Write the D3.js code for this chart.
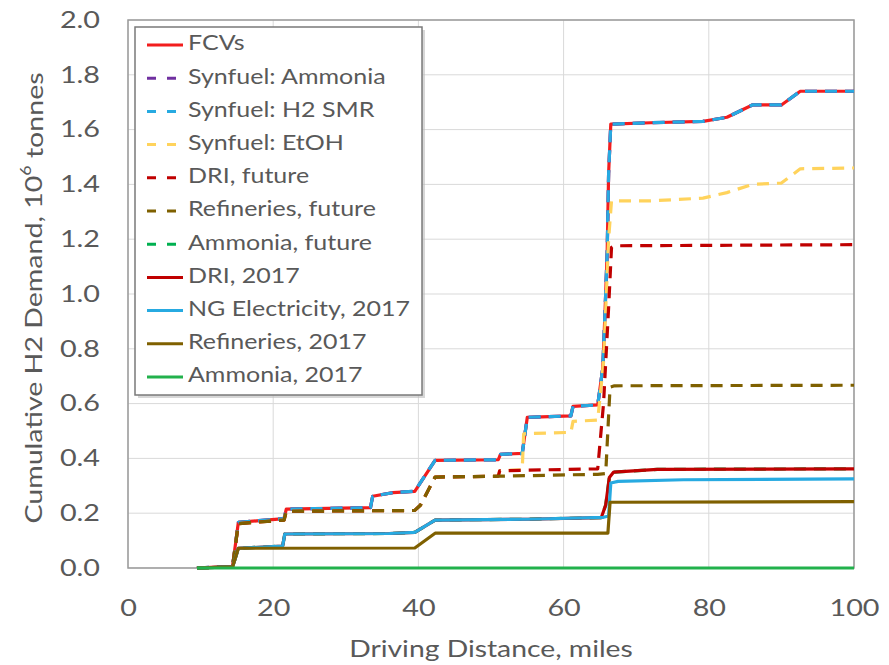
<!DOCTYPE html>
<html>
<head>
<meta charset="utf-8">
<script src="https://cdn.jsdelivr.net/npm/d3@7"></script>
<style>
  html, body { margin: 0; padding: 0; background: #fff; }
  svg { display: block; }
  text { font-family: Lato, "Open Sans", sans-serif; fill: #595959; }
</style>
</head>
<body>
<svg id="chart" width="889" height="665"></svg>
<script>
// ---------- DATA ----------
const seriesNames = ["FCVs", "Synfuel: Ammonia", "Synfuel: H2 SMR", "Synfuel: EtOH",
  "DRI, future", "Refineries, future", "Ammonia, future",
  "DRI, 2017", "NG Electricity, 2017", "Refineries, 2017", "Ammonia, 2017"];

const xTicks = [0, 20, 40, 60, 80, 100];
const yTicks = [0.0, 0.2, 0.4, 0.6, 0.8, 1.0, 1.2, 1.4, 1.6, 1.8, 2.0];

// FCVs / Synfuel: Ammonia / Synfuel: H2 SMR (overlapping)
const topDist = [9.5, 12, 14.4, 15.2, 21.5, 21.8, 33.4, 33.7, 36.5, 39.5, 42.3, 51, 51.3, 54.3, 55, 61, 61.3, 64.7, 65.4, 65.7, 66.0, 66.2, 66.5, 72, 79.2, 82.5, 86, 90, 92.6, 100];
const topVal  = [0, 0.003, 0.006, 0.167, 0.18, 0.215, 0.22, 0.262, 0.275, 0.28, 0.393, 0.395, 0.415, 0.418, 0.55, 0.555, 0.59, 0.595, 0.73, 0.93, 1.15, 1.44, 1.62, 1.625, 1.63, 1.645, 1.69, 1.69, 1.74, 1.74];

// Synfuel: EtOH
const etohDist = [9.5, 14.4, 15.2, 21.5, 21.8, 39.5, 40.3, 42.3, 51, 51.2, 54.3, 54.5, 61, 61.3, 64.7, 65.5, 66.2, 66.6, 72, 79.2, 82.5, 86, 90, 92.6, 100];
const etohVal  = [0, 0.004, 0.162, 0.175, 0.207, 0.21, 0.23, 0.332, 0.335, 0.355, 0.358, 0.49, 0.495, 0.535, 0.54, 0.75, 1.2, 1.34, 1.34, 1.35, 1.37, 1.40, 1.405, 1.457, 1.46];

// DRI, future
const driFutDist = [9.5, 14.4, 15.2, 21.5, 21.8, 39.5, 40.3, 42.3, 51, 51.2, 64.7, 65.5, 66.2, 66.6, 67, 100];
const driFutVal  = [0, 0.004, 0.162, 0.175, 0.207, 0.21, 0.23, 0.332, 0.335, 0.355, 0.362, 0.6, 0.95, 1.17, 1.176, 1.18];

// Refineries, future
const refFutDist = [9.5, 14.4, 15.2, 21.5, 21.8, 39.5, 40.3, 42.3, 51, 64.7, 65.8, 66.4, 67, 100];
const refFutVal  = [0, 0.004, 0.162, 0.175, 0.207, 0.21, 0.23, 0.332, 0.335, 0.342, 0.345, 0.66, 0.665, 0.667];

// Ammonia, future (hidden under DRI, 2017)
const ammFutDist = [9.5, 14.4, 15.2, 21.3, 21.6, 36, 39.5, 42.3, 55, 65.2, 65.8, 66.3, 66.9, 72.9, 100];
const ammFutVal  = [0, 0.004, 0.072, 0.08, 0.124, 0.126, 0.13, 0.175, 0.178, 0.184, 0.23, 0.33, 0.35, 0.36, 0.362];

// DRI, 2017
const dri17Dist = [9.5, 14.4, 15.2, 21.3, 21.6, 36, 39.5, 42.3, 55, 65.2, 65.8, 66.3, 66.9, 72.9, 100];
const dri17Val  = [0, 0.004, 0.072, 0.08, 0.124, 0.126, 0.13, 0.175, 0.178, 0.184, 0.23, 0.33, 0.35, 0.36, 0.362];

// NG Electricity, 2017
const ngDist = [9.5, 14.4, 15.2, 21.3, 21.6, 36, 39.5, 42.3, 55, 65.5, 66.2, 66.5, 67.5, 76.5, 100];
const ngVal  = [0, 0.004, 0.072, 0.08, 0.124, 0.126, 0.13, 0.175, 0.178, 0.185, 0.19, 0.31, 0.316, 0.322, 0.325];

// Refineries, 2017
const ref17Dist = [9.5, 14.4, 15.2, 39.5, 42.3, 66.1, 66.4, 100];
const ref17Val  = [0, 0.004, 0.072, 0.073, 0.127, 0.127, 0.24, 0.242];

// Ammonia, 2017
const amm17Dist = [9.5, 100];
const amm17Val  = [0, 0];

const seriesColors = ["#f21d1d", "#7030a0", "#27aae1", "#ffd35c", "#c00000", "#7f6000", "#00b050",
  "#c00000", "#27aae1", "#7f6000", "#22b14c"];
const seriesDashed = [false, true, true, true, true, true, true, false, false, false, false];
const seriesDist = [topDist, topDist, topDist, etohDist, driFutDist, refFutDist, ammFutDist, dri17Dist, ngDist, ref17Dist, amm17Dist];
const seriesVal  = [topVal, topVal, topVal, etohVal, driFutVal, refFutVal, ammFutVal, dri17Val, ngVal, ref17Val, amm17Val];

// ---------- DRAW ----------
const svg = d3.select("#chart");
const W = 889, H = 665;
const plot = { left: 128, right: 854, top: 20, bottom: 568 };

svg.append("rect").attr("width", W).attr("height", H).attr("fill", "#fff");

const x = d3.scaleLinear().domain([0, 100]).range([plot.left, plot.right]);
const y = d3.scaleLinear().domain([0, 2]).range([plot.bottom, plot.top]);

// gridlines
const grid = svg.append("g");
grid.selectAll("line.h").data(yTicks).join("line")
  .attr("x1", plot.left).attr("x2", plot.right)
  .attr("y1", d => y(d)).attr("y2", d => y(d))
  .attr("stroke", "#d9d9d9").attr("stroke-width", 1);
grid.selectAll("line.v").data(xTicks).join("line")
  .attr("y1", plot.top).attr("y2", plot.bottom)
  .attr("x1", d => x(d)).attr("x2", d => x(d))
  .attr("stroke", "#d9d9d9").attr("stroke-width", 1);

// frame
svg.append("rect")
  .attr("x", plot.left).attr("y", plot.top)
  .attr("width", plot.right - plot.left).attr("height", plot.bottom - plot.top)
  .attr("fill", "none").attr("stroke", "#9a9a9a").attr("stroke-width", 1.5);

// axes (labels only)
const xAxis = d3.axisBottom(x).tickValues(xTicks).tickSize(0).tickPadding(0).tickFormat(d3.format("d"));
const gx = svg.append("g").attr("transform", `translate(0,${plot.bottom + 28})`).call(xAxis);
gx.select(".domain").remove();
gx.selectAll("text").attr("font-size", 23).attr("font-family", "Lato, sans-serif")
  .attr("fill", "#595959").attr("dy", "0.35em").attr("y", 12)
  .attr("transform", "scale(1.25,1)");

const yAxis = d3.axisLeft(y).tickValues(yTicks).tickSize(0).tickPadding(0).tickFormat(d3.format(".1f"));
const gy = svg.append("g").attr("transform", `translate(${plot.left - 28},0)`).call(yAxis);
gy.select(".domain").remove();
gy.selectAll("text").attr("font-size", 23).attr("font-family", "Lato, sans-serif")
  .attr("fill", "#595959").attr("transform", "scale(1.25,1)");

// axis titles
svg.append("text")
  .attr("transform", `translate(${(plot.left + plot.right) / 2},651) scale(1.18,1)`)
  .attr("text-anchor", "middle").attr("dominant-baseline", "middle")
  .attr("font-size", 24).text("Driving Distance, miles");

const yt = svg.append("text")
  .attr("transform", `translate(36,${(plot.top + plot.bottom) / 2 + 4}) rotate(-90) scale(1.19,1)`)
  .attr("text-anchor", "middle").attr("dominant-baseline", "middle")
  .attr("font-size", 24);
yt.append("tspan").text("Cumulative H2 Demand, 10");
yt.append("tspan").attr("font-size", 15).attr("dy", "-0.6em").text("6");
yt.append("tspan").attr("dy", "0.4em").text(" tonnes");

// series lines
const line = d3.line().x(d => x(d[0])).y(d => y(d[1]));
const gLines = svg.append("g");
seriesNames.forEach((name, i) => {
  const pts = seriesDist[i].map((dv, k) => [dv, seriesVal[i][k]]);
  gLines.append("path")
    .attr("d", line(pts))
    .attr("fill", "none")
    .attr("stroke", seriesColors[i])
    .attr("stroke-width", 3.2)
    .attr("stroke-linejoin", "round")
    .attr("stroke-dasharray", seriesDashed[i] ? "12,8" : null);
});

// legend
const lg = { x: 135, y: 27, w: 287, h: 368, row0: 45, rowH: 33.2 };
svg.append("rect").attr("x", lg.x + 3).attr("y", lg.y + 3).attr("width", lg.w).attr("height", lg.h)
  .attr("fill", "#bdbdbd").attr("opacity", 0.6);
svg.append("rect").attr("x", lg.x).attr("y", lg.y).attr("width", lg.w).attr("height", lg.h)
  .attr("fill", "#fff").attr("stroke", "#7a7a7a").attr("stroke-width", 1.5);
const items = svg.append("g").selectAll("g").data(seriesNames).join("g")
  .attr("transform", (d, i) => `translate(0,${lg.row0 + i * lg.rowH})`);
items.append("line")
  .attr("x1", 147).attr("x2", 183).attr("y1", 0).attr("y2", 0)
  .attr("stroke", (d, i) => seriesColors[i]).attr("stroke-width", 3)
  .attr("stroke-dasharray", (d, i) => seriesDashed[i] ? "9,11" : null);
items.append("text")
  .attr("transform", "translate(188,0) scale(1.19,1)")
  .attr("dominant-baseline", "middle")
  .attr("font-size", 21).text(d => d);
</script>
</body>
</html>
